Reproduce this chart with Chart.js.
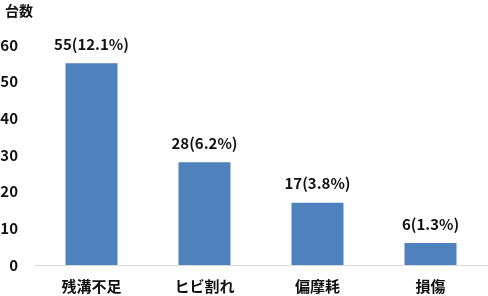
<!DOCTYPE html>
<html>
<head>
<meta charset="utf-8">
<script src="https://cdn.jsdelivr.net/npm/chart.js@4"></script>
<style>
  body { margin: 0; background: #fff; }
  #wrap { width: 488px; height: 296px; }
</style>
</head>
<body>
<div id="wrap"><canvas id="bar"></canvas></div>
<script>
const categories = ['残溝不足', 'ヒビ割れ', '偏摩耗', '損傷'];
const counts = [55, 28, 17, 6];
const percents = ['12.1', '6.2', '3.8', '1.3'];
const yTicks = [0, 10, 20, 30, 40, 50, 60];
const yTitle = '台数';

const jpFont = '"Noto Sans CJK JP", "Noto Sans", sans-serif';

// labels above bars + axis unit in the top-left corner
const barLabels = {
  id: 'barLabels',
  afterDatasetsDraw(chart) {
    const ctx = chart.ctx;
    const meta = chart.getDatasetMeta(0);
    ctx.save();
    ctx.font = 'bold 15px ' + jpFont;
    ctx.fillStyle = '#111';
    ctx.textAlign = 'center';
    ctx.textBaseline = 'middle';
    meta.data.forEach((bar, i) => {
      ctx.fillText(counts[i] + '(' + percents[i] + '%)', bar.x, bar.y - 19);
    });
    ctx.font = 'bold 14px ' + jpFont;
    ctx.textAlign = 'left';
    ctx.fillText(yTitle, 5, 11);
    ctx.restore();
  }
};

const ctx = document.getElementById('bar');

new Chart(ctx, {
  type: 'bar',
  data: {
    labels: categories,
    datasets: [{
      data: counts,
      backgroundColor: '#4F81BD',
      borderWidth: 0,
      categoryPercentage: 1,
      barPercentage: 0.46
    }]
  },
  options: {
    responsive: true,
    maintainAspectRatio: false,
    animation: false,
    layout: { padding: { left: 0, right: 1, top: 45, bottom: 0 } },
    plugins: {
      legend: { display: false },
      tooltip: { enabled: false }
    },
    scales: {
      x: {
        grid: { display: false, drawTicks: false },
        border: { display: true, color: '#d9d9d9', width: 1 },
        ticks: {
          color: '#111',
          font: { family: jpFont, size: 15, weight: 'bold' },
          padding: 12
        },
        afterFit(s) { s.height = 31; }
      },
      y: {
        min: 0,
        max: 60,
        grid: { display: false, drawTicks: false },
        border: { display: false },
        afterBuildTicks(s) { s.ticks = yTicks.map(v => ({ value: v })); },
        ticks: {
          color: '#111',
          font: { family: jpFont, size: 15, weight: 'bold' },
          padding: 17
        },
        afterFit(s) { s.width = 35; }
      }
    }
  },
  plugins: [barLabels]
});
</script>
</body>
</html>
